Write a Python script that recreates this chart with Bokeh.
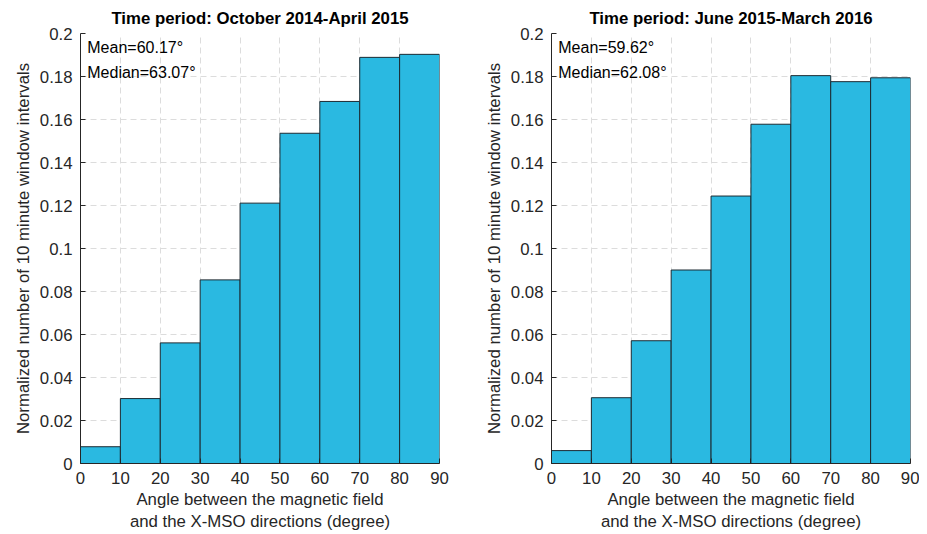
from bokeh.plotting import figure
from bokeh.layouts import row
from bokeh.models import FixedTicker, Label, ColumnDataSource
from bokeh.embed import file_html
from bokeh.resources import INLINE

bin_left = [0, 10, 20, 30, 40, 50, 60, 70, 80]
bin_right = [10, 20, 30, 40, 50, 60, 70, 80, 90]
period1 = [0.0078, 0.0302, 0.0561, 0.0854, 0.1211, 0.1536, 0.1684, 0.1889, 0.1903]
period2 = [0.0060, 0.0306, 0.0571, 0.0900, 0.1244, 0.1578, 0.1804, 0.1776, 0.1794]
titles = ["Time period: October 2014-April 2015", "Time period: June 2015-March 2016"]
stats = [("Mean=60.17°", "Median=63.07°"), ("Mean=59.62°", "Median=62.08°")]
yticks = [0, 0.02, 0.04, 0.06, 0.08, 0.1, 0.12, 0.14, 0.16, 0.18, 0.2]
ytick_labels = ["0", "0.02", "0.04", "0.06", "0.08", "0.1", "0.12", "0.14", "0.16", "0.18", "0.2"]
xticks = [0, 10, 20, 30, 40, 50, 60, 70, 80, 90]

FONT = "Liberation Sans"
TXT = "#262626"
FS = "16.8px"


def make(values, title, stat, width, bl, br):
    p = figure(width=width, height=534, x_range=(0, 90), y_range=(0, 0.2),
               output_backend="svg", toolbar_location=None,
               min_border_left=bl, min_border_right=br,
               min_border_top=33, min_border_bottom=70)
    p.title.text = title
    p.title.align = "center"
    p.title.text_font = FONT
    p.title.text_font_size = FS
    p.title.text_font_style = "bold"
    p.title.text_color = "black"
    p.title.offset = 0
    p.title.standoff = 11
    src = ColumnDataSource(dict(left=bin_left, right=bin_right, top=values,
                                bottom=[0] * len(values)))
    p.quad(left="left", right="right", top="top", bottom="bottom", source=src,
           fill_color="#2ab9e1", line_color="#1c2b33", line_width=1)
    p.outline_line_color = None
    p.xaxis.ticker = FixedTicker(ticks=xticks)
    p.yaxis.ticker = FixedTicker(ticks=yticks)
    p.yaxis.major_label_overrides = {t: l for t, l in zip(yticks, ytick_labels)}
    p.xaxis.axis_label = "Angle between the magnetic field\nand the X-MSO directions (degree)"
    p.yaxis.axis_label = "Normalized number of 10 minute window intervals"
    for ax in (p.xaxis, p.yaxis):
        ax.axis_line_color = TXT
        ax.major_tick_line_color = TXT
        ax.major_tick_in = 5
        ax.major_tick_out = 0
        ax.minor_tick_line_color = None
        ax.major_label_text_font = FONT
        ax.major_label_text_font_size = FS
        ax.major_label_text_color = TXT
        ax.axis_label_text_font = FONT
        ax.axis_label_text_font_size = FS
        ax.axis_label_text_color = TXT
        ax.axis_label_text_font_style = "normal"
    p.yaxis.major_label_standoff = 8
    p.xaxis.major_label_standoff = 8
    p.yaxis.axis_label_standoff = 4
    p.xaxis.axis_label_standoff = 3
    for g in (p.xgrid, p.ygrid):
        g.grid_line_color = "#dcdcdc"
        g.grid_line_dash = "6 4"
        g.grid_line_width = 1
    p.xgrid.ticker = FixedTicker(ticks=xticks)
    p.ygrid.ticker = FixedTicker(ticks=yticks)
    p.add_layout(Label(x=1.7, y=0.1935, text=stat[0], text_font=FONT,
                       text_font_size="16px", text_color="black",
                       text_baseline="middle"))
    p.add_layout(Label(x=1.7, y=0.1819, text=stat[1], text_font=FONT,
                       text_font_size="16px", text_color="black",
                       text_baseline="middle"))
    return p


p1 = make(period1, titles[0], stats[0], 471, 80, 32)
p2 = make(period2, titles[1], stats[1], 448, 80, 9)
layout = row(p1, p2, spacing=0)

open("out.html", "w").write(file_html(layout, INLINE))
